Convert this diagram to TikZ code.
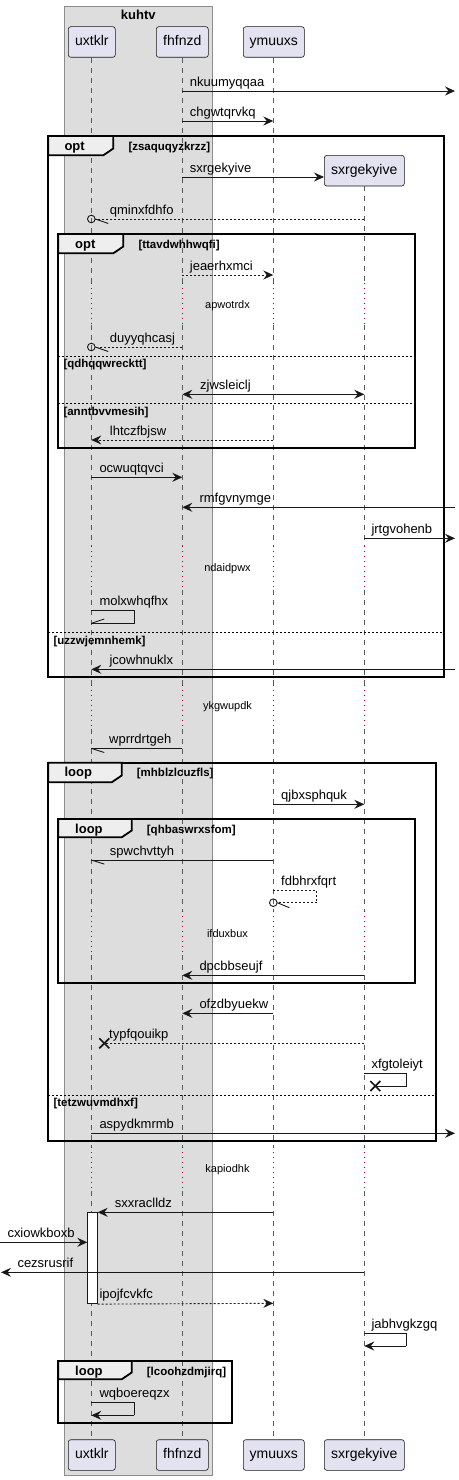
\documentclass[tikz,border=0pt]{standalone}
\usepackage{fontspec}
\setmainfont{Liberation Sans}
\usetikzlibrary{arrows.meta}
\definecolor{cdark}{HTML}{181818}
\definecolor{partfill}{HTML}{E2E2F0}
\definecolor{groupfill}{HTML}{DDDDDD}
\definecolor{groupdraw}{HTML}{8C8C8C}
\definecolor{tabfill}{HTML}{EEEEEE}
\definecolor{lifecol}{HTML}{5A5A5A}
\definecolor{delaycol}{HTML}{A8003C}
\tikzset{
  part/.style={draw=cdark, fill=partfill, rounded corners=2.5pt, line width=0.6pt,
    minimum height=30.6pt, inner sep=0pt, font=\fontsize{14}{16}\selectfont,
    text height=10pt, text depth=3pt},
  msg/.style={line width=0.9pt, draw=cdark, -{Stealth[length=10pt,width=9pt,inset=3.5pt]}},
  dmsg/.style={msg, dash pattern=on 2pt off 2pt},
  bimsg/.style={line width=0.9pt, draw=cdark, {Stealth[length=10pt,width=9pt,inset=3.5pt]}-{Stealth[length=10pt,width=9pt,inset=3.5pt]}},
  plainln/.style={line width=0.9pt, draw=cdark},
  dplainln/.style={plainln, dash pattern=on 2pt off 2pt},
  xmark/.style={line width=1.7pt, draw=cdark},
  lbl/.style={anchor=base west, inner sep=0pt, font=\fontsize{13}{15}\selectfont},
  life/.style={draw=lifecol, line width=0.7pt, dash pattern=on 5pt off 5pt},
  dly/.style={draw=delaycol, line width=1.2pt, dash pattern=on 1.2pt off 3.8pt},
  dlytxt/.style={inner sep=0pt, font=\fontsize{11}{13}\selectfont},
  frame/.style={draw=black, line width=1.8pt},
  tabshape/.style={draw=black, line width=1.8pt, fill=tabfill, line join=miter},
  flbl/.style={anchor=base west, inner sep=0pt, font=\bfseries\fontsize{13}{15}\selectfont},
  cond/.style={anchor=base west, inner sep=0pt, font=\bfseries\fontsize{11.5}{13}\selectfont},
  sepln/.style={draw=black, line width=0.8pt, dash pattern=on 2pt off 2pt},
  act/.style={draw=cdark, fill=white, line width=0.8pt, minimum width=10pt, minimum height=91pt, inner sep=0pt},
}
\begin{document}
\begin{tikzpicture}[x=1pt,y=-1pt]
\useasboundingbox (0,0) rectangle (458,1480);
% named lifeline coordinates
\coordinate (U) at (91.3,0);
\coordinate (F) at (182.3,0);
\coordinate (Y) at (273.3,0);
\coordinate (S) at (364.3,0);
\coordinate (R) at (455,0);
\coordinate (L) at (0,0);
% group box
\draw[draw=groupdraw, fill=groupfill, line width=0.8pt] (64.3,6) rectangle (212.3,1475);
\node[anchor=base, inner sep=0pt, font=\bfseries\fontsize{13}{15}\selectfont] (gtitle) at (138.3,20) {kuhtv};
% participants
\node[part, minimum width=47pt] (tU) at (91.8,42) {uxtklr};
\node[part, minimum width=52pt] (tF) at (182.3,42) {fhfnzd};
\node[part, minimum width=61pt] (tY) at (273.8,42) {ymuuxs};
\node[part, minimum width=80pt] (tS) at (364.3,170.7) {sxrgekyive};
\node[part, minimum width=47pt] (bU) at (91.8,1455) {uxtklr};
\node[part, minimum width=52pt] (bF) at (182.3,1455) {fhfnzd};
\node[part, minimum width=61pt] (bY) at (273.8,1455) {ymuuxs};
\node[part, minimum width=80pt] (bS) at (364.3,1455) {sxrgekyive};
% lifelines
\foreach \p in {U,F,Y,S}{
  \draw[life] (\p |- t\p.south) -- ([yshift=-283pt]\p);
  \foreach \a/\b in {325/546,590/684.7,728.7/911,955/1147}
    \draw[life] ([yshift=-\a pt]\p) -- ([yshift=-\b pt]\p);
  \draw[life] ([yshift=-1191pt]\p) -- (\p |- b\p.north);
  \foreach \a/\b in {283/325,546/590,684.7/728.7,911/955,1147/1191}
    \draw[dly] ([yshift=-\a pt]\p) -- ([yshift=-\b pt]\p);
}
% delays
\node[dlytxt] (d1) at (227.5,305.3) {apwotrdx};
\node[dlytxt] (d2) at (227.5,568.3) {ndaidpwx};
\node[dlytxt] (d3) at (227.5,706.7) {ykgwupdk};
\node[dlytxt] (d4) at (227.5,933.3) {ifduxbux};
\node[dlytxt] (d5) at (227.5,1169.3) {kapiodhk};
% ---- frames ----
% outer opt
\draw[frame] (48.3,136) rectangle (444,677.3);
\draw[tabshape] (48.3,136) -- (113.3,136) -- (113.3,148.5) -- (103.3,155.3) -- (48.3,155.3) -- cycle;
\node[flbl] (f1k) at (64.3,150) {opt};
\node[cond] (f1c) at (128.3,150) {[zsaquqyzkrzz]};
\draw[sepln] (48.3,632.3) -- (444,632.3);
\node[cond] (f1e) at (53.3,644) {[uzzwjemnhemk]};
% inner opt
\draw[frame] (58.3,234) rectangle (415,448.3);
\draw[tabshape] (58.3,234) -- (123.3,234) -- (123.3,246.5) -- (113.3,253.3) -- (58.3,253.3) -- cycle;
\node[flbl] (f2k) at (75,248) {opt};
\node[cond] (f2c) at (138.3,248) {[ttavdwhhwqfi]};
\draw[sepln] (58.3,356) -- (415,356);
\node[cond] (f2e) at (63.3,367.7) {[qdhqqwrecktt]};
\draw[sepln] (58.3,403.3) -- (415,403.3);
\node[cond] (f2f) at (63.3,415) {[anntbvvmesih]};
% loop 1
\draw[frame] (48.3,762.7) rectangle (436,1141);
\draw[tabshape] (48.3,762.7) -- (121.7,762.7) -- (121.7,775.5) -- (111.7,782.3) -- (48.3,782.3) -- cycle;
\node[flbl] (f3k) at (64.3,776.7) {loop};
\node[cond] (f3c) at (136.7,776.7) {[mhblzlcuzfls]};
\draw[sepln] (48.3,1095) -- (436,1095);
\node[cond] (f3e) at (53.3,1106.7) {[tetzwuvmdhxf]};
% loop 2
\draw[frame] (58.3,819) rectangle (415,983.3);
\draw[tabshape] (58.3,819) -- (131.7,819) -- (131.7,830.5) -- (121.7,837.3) -- (58.3,837.3) -- cycle;
\node[flbl] (f4k) at (75,833) {loop};
\node[cond] (f4c) at (146.7,833) {[qhbaswrxsfom]};
% loop 3
\draw[frame] (58.3,1361) rectangle (231.7,1423.3);
\draw[tabshape] (58.3,1361) -- (131.7,1361) -- (131.7,1372.5) -- (121.7,1379.3) -- (58.3,1379.3) -- cycle;
\node[flbl] (f5k) at (75,1375) {loop};
\node[cond] (f5c) at (146.7,1375) {[lcoohzdmjirq]};
% ---- messages ----
\draw[msg] ([yshift=-91pt]F) -- ([yshift=-91pt]R);
\node[lbl] (m1) at (189.7,86) {nkuumyqqaa};
\draw[msg] ([yshift=-121pt]F) -- ([yshift=-121pt]Y);
\node[lbl] (m2) at (189.7,116) {chgwtqrvkq};
\draw[msg] ([yshift=-177pt]F) -- (tS.west |- 0,177);
\node[lbl] (m3) at (189.7,172) {sxrgekyive};
% qminxfdhfo
\draw[dplainln] ([yshift=-219pt]S) -- ([xshift=4pt,yshift=-219pt]U);
\draw[plainln] ([yshift=-219pt]U) circle (3.8pt);
\draw[plainln] ([xshift=4pt,yshift=-219pt]U) -- ([xshift=17pt,yshift=-223.5pt]U);
\node[lbl] (m4) at (109.7,214) {qminxfdhfo};
% jeaerhxmci
\draw[dmsg] ([yshift=-275pt]F) -- ([yshift=-275pt]Y);
\node[lbl] (m5) at (189.7,270) {jeaerhxmci};
% duyyqhcasj
\draw[dplainln] ([yshift=-347pt]F) -- ([xshift=4pt,yshift=-347pt]U);
\draw[plainln] ([yshift=-347pt]U) circle (3.8pt);
\draw[plainln] ([xshift=4pt,yshift=-347pt]U) -- ([xshift=17pt,yshift=-351.5pt]U);
\node[lbl] (m6) at (109.7,342) {duyyqhcasj};
% zjwsleiclj
\draw[bimsg] ([yshift=-394.3pt]F) -- ([yshift=-394.3pt]S);
\node[lbl] (m7) at (200,389.3) {zjwsleiclj};
% lhtczfbjsw
\draw[dmsg] ([yshift=-440pt]Y) -- ([yshift=-440pt]U);
\node[lbl] (m8) at (109.7,435) {lhtczfbjsw};
% ocwuqtqvci
\draw[msg] ([yshift=-477.3pt]U) -- ([yshift=-477.3pt]F);
\node[lbl] (m9) at (99.3,472.3) {ocwuqtqvci};
% rmfgvnymge
\draw[msg] ([yshift=-507.3pt]R) -- ([yshift=-507.3pt]F);
\node[lbl] (m10) at (199.3,502.3) {rmfgvnymge};
% jrtgvohenb
\draw[msg] ([yshift=-538.3pt]S) -- ([yshift=-538.3pt]R);
\node[lbl] (m11) at (371.3,533.3) {jrtgvohenb};
% molxwhqfhx self
\draw[plainln] ([yshift=-610.7pt]U) -- ([xshift=43pt,yshift=-610.7pt]U) -- ([xshift=43pt,yshift=-623pt]U) -- ([yshift=-623pt]U);
\draw[plainln] ([xshift=1pt,yshift=-623pt]U) -- ([xshift=13pt,yshift=-619pt]U);
\node[lbl] (m12) at (99.3,605.7) {molxwhqfhx};
% jcowhnuklx
\draw[msg] ([yshift=-669.3pt]R) -- ([yshift=-669.3pt]U);
\node[lbl] (m13) at (109.3,664.3) {jcowhnuklx};
% wprrdrtgeh
\draw[plainln] ([yshift=-748.7pt]F) -- ([yshift=-748.7pt]U);
\draw[plainln] ([xshift=1pt,yshift=-748.7pt]U) -- ([xshift=13pt,yshift=-752.5pt]U);
\node[lbl] (m14) at (109,743.7) {wprrdrtgeh};
% qjbxsphquk
\draw[msg] ([yshift=-804.3pt]Y) -- ([yshift=-804.3pt]S);
\node[lbl] (m15) at (281,799.3) {qjbxsphquk};
% spwchvttyh
\draw[plainln] ([yshift=-860.3pt]Y) -- ([yshift=-860.3pt]U);
\draw[plainln] ([xshift=1pt,yshift=-860.3pt]U) -- ([xshift=13pt,yshift=-864.1pt]U);
\node[lbl] (m16) at (109.7,855.3) {spwchvttyh};
% fdbhrxfqrt self
\draw[dplainln] ([yshift=-890.3pt]Y) -- ([xshift=43.4pt,yshift=-890.3pt]Y) -- ([xshift=43.4pt,yshift=-902.7pt]Y) -- ([xshift=4pt,yshift=-902.7pt]Y);
\draw[plainln] ([yshift=-902.7pt]Y) circle (3.8pt);
\draw[plainln] ([xshift=4pt,yshift=-902.7pt]Y) -- ([xshift=16pt,yshift=-907.7pt]Y);
\node[lbl] (m17) at (281,885.3) {fdbhrxfqrt};
% dpcbbseujf
\draw[msg] ([yshift=-975.3pt]S) -- ([yshift=-975.3pt]F);
\node[lbl] (m18) at (199.3,970.3) {dpcbbseujf};
% ofzdbyuekw
\draw[msg] ([yshift=-1013.3pt]Y) -- ([yshift=-1013.3pt]F);
\node[lbl] (m19) at (199.3,1008.3) {ofzdbyuekw};
% typfqouikp
\draw[dplainln] ([yshift=-1043.3pt]S) -- ([xshift=13pt,yshift=-1043.3pt]U);
\draw[xmark] ([xshift=8pt,yshift=-1038.3pt]U) -- ([xshift=18pt,yshift=-1048.3pt]U);
\draw[xmark] ([xshift=8pt,yshift=-1048.3pt]U) -- ([xshift=18pt,yshift=-1038.3pt]U);
\node[lbl] (m20) at (109,1038.3) {typfqouikp};
% xfgtoleiyt self
\draw[plainln] ([yshift=-1073.7pt]S) -- ([xshift=42pt,yshift=-1073.7pt]S) -- ([xshift=42pt,yshift=-1086pt]S) -- ([xshift=11pt,yshift=-1086pt]S);
\draw[xmark] ([xshift=6pt,yshift=-1081pt]S) -- ([xshift=16pt,yshift=-1091pt]S);
\draw[xmark] ([xshift=6pt,yshift=-1091pt]S) -- ([xshift=16pt,yshift=-1081pt]S);
\node[lbl] (m21) at (371.3,1068.7) {xfgtoleiyt};
% aspydkmrmb
\draw[msg] ([yshift=-1133.3pt]U) -- ([yshift=-1133.3pt]R);
\node[lbl] (m22) at (99.3,1128.3) {aspydkmrmb};
% activation
\node[act, anchor=north] (actU) at ([xshift=1pt,yshift=-1212.3pt]U) {};
% sxxraclldz
\draw[msg] ([yshift=-1212.3pt]Y) -- (actU.north east);
\node[lbl] (m23) at (114.7,1207.3) {sxxraclldz};
% cxiowkboxb
\draw[msg] ([yshift=-1242.3pt]L) -- ([xshift=-5pt,yshift=-30pt]actU.north);
\node[lbl] (m24) at (7.3,1237.3) {cxiowkboxb};
% cezsrusrif
\draw[msg] ([yshift=-1272.3pt]S) -- ([xshift=1pt,yshift=-1272.3pt]L);
\node[lbl] (m25) at (17.3,1267.3) {cezsrusrif};
% ipojfcvkfc
\draw[dmsg] (actU.south east) -- ([yshift=-1303.3pt]Y);
\node[lbl] (m26) at (99.3,1298.3) {ipojfcvkfc};
% jabhvgkzgq self
\draw[plainln] ([yshift=-1333.3pt]S) -- ([xshift=42pt,yshift=-1333.3pt]S) -- ([xshift=42pt,yshift=-1346pt]S);
\draw[msg] ([xshift=42pt,yshift=-1346pt]S) -- ([yshift=-1346pt]S);
\node[lbl] (m27) at (371.3,1328.3) {jabhvgkzgq};
% wqboereqzx self
\draw[plainln] ([yshift=-1402.7pt]U) -- ([xshift=43pt,yshift=-1402.7pt]U) -- ([xshift=43pt,yshift=-1415.3pt]U);
\draw[msg] ([xshift=43pt,yshift=-1415.3pt]U) -- ([yshift=-1415.3pt]U);
\node[lbl] (m28) at (99.3,1397.7) {wqboereqzx};
\end{tikzpicture}
\end{document}
